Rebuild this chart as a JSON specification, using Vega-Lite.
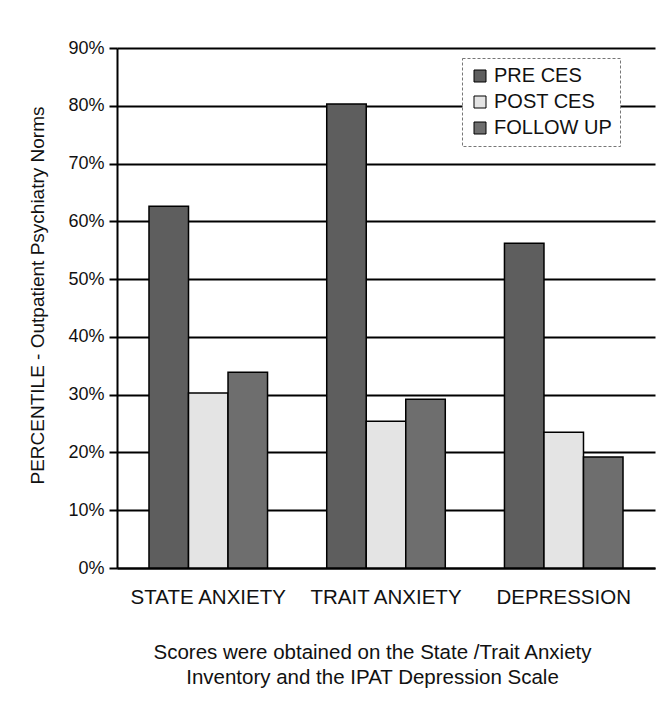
{
  "$schema": "https://vega.github.io/schema/vega-lite/v6.json",
  "width": 538,
  "height": 520,
  "autosize": {"type": "none"},
  "padding": {"left": 117, "top": 48, "right": 17, "bottom": 145},
  "background": "white",
  "config": {
    "font": "Liberation Sans",
    "view": {"stroke": null}
  },
  "data": {
    "values": [
      {"measure": "STATE ANXIETY", "phase": "PRE CES", "value": 62.6},
      {"measure": "STATE ANXIETY", "phase": "POST CES", "value": 30.3},
      {"measure": "STATE ANXIETY", "phase": "FOLLOW UP", "value": 33.9},
      {"measure": "TRAIT ANXIETY", "phase": "PRE CES", "value": 80.3},
      {"measure": "TRAIT ANXIETY", "phase": "POST CES", "value": 25.4},
      {"measure": "TRAIT ANXIETY", "phase": "FOLLOW UP", "value": 29.2},
      {"measure": "DEPRESSION", "phase": "PRE CES", "value": 56.2},
      {"measure": "DEPRESSION", "phase": "POST CES", "value": 23.5},
      {"measure": "DEPRESSION", "phase": "FOLLOW UP", "value": 19.2}
    ]
  },
  "mark": {"type": "bar", "stroke": "black", "strokeWidth": 1.5},
  "encoding": {
    "x": {
      "field": "measure",
      "type": "nominal",
      "sort": ["STATE ANXIETY", "TRAIT ANXIETY", "DEPRESSION"],
      "scale": {"paddingInner": 0.333, "paddingOuter": 0.18},
      "axis": {
        "title": ["Scores were obtained on the State /Trait Anxiety", "Inventory and the IPAT Depression Scale"],
        "titleFontSize": 20.5,
        "titleFontWeight": "normal",
        "titleColor": "#111",
        "titleLineHeight": 25,
        "titlePadding": 35,
        "titleX": 255,
        "labelAngle": 0,
        "labelFontSize": 20.5,
        "labelColor": "#111",
        "labelPadding": 19,
        "ticks": false,
        "domainColor": "black",
        "domainWidth": 2
      }
    },
    "xOffset": {
      "field": "phase",
      "type": "nominal",
      "scale": {"domain": ["PRE CES", "POST CES", "FOLLOW UP"], "paddingInner": 0}
    },
    "y": {
      "field": "value",
      "type": "quantitative",
      "scale": {"domain": [0, 90], "nice": false},
      "axis": {
        "title": "PERCENTILE - Outpatient Psychiatry Norms",
        "titleFontSize": 19,
        "titleFontWeight": "normal",
        "titleColor": "#111",
        "titlePadding": 20,
        "titleY": 247,
        "values": [0, 10, 20, 30, 40, 50, 60, 70, 80, 90],
        "labelExpr": "datum.value + '%'",
        "labelFontSize": 18,
        "labelColor": "#111",
        "labelPadding": 5,
        "tickSize": 8,
        "tickColor": "black",
        "tickWidth": 2,
        "gridColor": "black",
        "gridWidth": 2,
        "gridOpacity": 1,
        "domainColor": "black",
        "domainWidth": 2
      }
    },
    "fill": {
      "field": "phase",
      "type": "nominal",
      "scale": {
        "domain": ["PRE CES", "POST CES", "FOLLOW UP"],
        "range": ["#5e5e5e", "#e4e4e4", "#6e6e6e"]
      },
      "legend": {
        "title": null,
        "orient": "none",
        "legendX": 345,
        "legendY": 10,
        "symbolType": "square",
        "symbolSize": 144,
        "symbolStrokeColor": "black",
        "symbolStrokeWidth": 1,
        "labelFontSize": 20,
        "labelOffset": 4,
        "labelColor": "#111",
        "rowPadding": 6,
        "padding": 8,
        "strokeColor": "#777",
        "fillColor": "white",
        "encode": {"legend": {"update": {"strokeDash": {"value": [3, 2]}}}}
      }
    }
  }
}
